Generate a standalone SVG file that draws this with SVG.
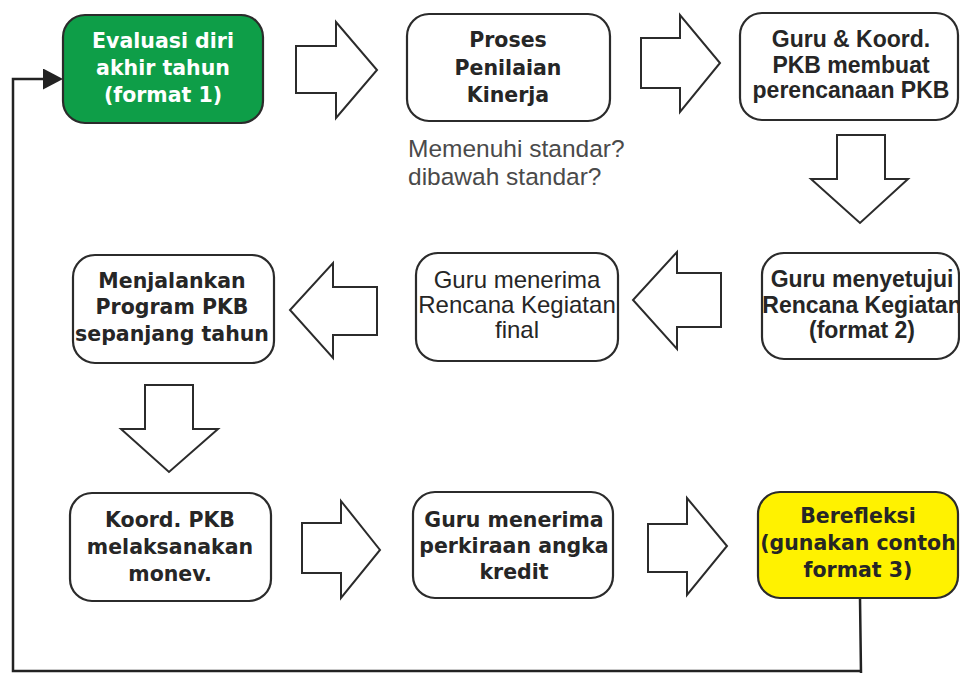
<svg xmlns="http://www.w3.org/2000/svg" width="960" height="673" viewBox="0 0 960 673">
  <style>
    .box { fill: #ffffff; stroke: #2b2b2b; stroke-width: 2.2; }
    .green { fill: #0e9e48; }
    .yellow { fill: #fff200; }
    .blk { stroke: #2b2b2b; stroke-width: 2; fill: #ffffff; stroke-linejoin: miter; }
    .tb { font-family: "DejaVu Sans", Verdana, sans-serif; font-weight: bold; font-size: 20.5px; fill: #262626; text-anchor: middle; }
    .ta { font-family: "Liberation Sans", Arial, sans-serif; font-weight: bold; font-size: 23px; fill: #262626; text-anchor: middle; }
    .tr { font-family: "Liberation Sans", Arial, sans-serif; font-size: 24px; fill: #262626; text-anchor: middle; }
    .note { font-family: "Liberation Sans", Arial, sans-serif; font-size: 24.5px; fill: #4a4a4a; }
    .wire { fill: none; stroke: #222222; stroke-width: 2.5; }
  </style>
  <defs>
    <marker id="head" viewBox="0 0 20 21" refX="7" refY="10.5" markerWidth="20" markerHeight="21" markerUnits="userSpaceOnUse" orient="auto">
      <path d="M0,0 L20,10.5 L0,21 z" fill="#222222"/>
    </marker>
  </defs>

  <rect width="960" height="673" fill="#ffffff"/>

  <!-- feedback loop from the reflection step back to the start -->
  <g id="connectors">
    <path class="wire" d="M860,598 L861,673 M862,671 L13,671 L13,79 L50,79" marker-end="url(#head)"/>
  </g>

  <!-- block arrows between steps -->
  <g id="flow-arrows">
    <polygon class="blk" points="296,46 336,46 336,22 377,70 336,118 336,93 296,93"/>
    <polygon class="blk" points="641,38 680,38 680,15 720,63 680,112 680,88 641,88"/>
    <polygon class="blk" points="837,135 885,135 885,179 908,179 860,223 811,179 837,179"/>
    <polygon class="blk" points="721,273 677,273 677,252 633,300 677,349 677,327 721,327"/>
    <polygon class="blk" points="377,287 333,287 333,263 290,310 333,358 333,335 377,335"/>
    <polygon class="blk" points="145,385 193,385 193,429 218,429 169,472 121,429 145,429"/>
    <polygon class="blk" points="302,523 341,523 341,501 380,550 341,598 341,573 302,573"/>
    <polygon class="blk" points="648,524 687,524 687,498 727,546 687,595 687,572 648,572"/>
  </g>

  <g id="n-evaluasi">
    <rect class="box green" x="63" y="15" width="200" height="108" rx="22"/>
    <text class="tb" x="163" y="48" style="fill:#ffffff">Evaluasi diri</text>
    <text class="tb" x="163" y="75" style="fill:#ffffff">akhir tahun</text>
    <text class="tb" x="163" y="102" style="fill:#ffffff">(format 1)</text>
  </g>

  <g id="n-proses">
    <rect class="box" x="407" y="14" width="203" height="107" rx="22"/>
    <text class="tb" x="508" y="47">Proses</text>
    <text class="tb" x="508" y="75">Penilaian</text>
    <text class="tb" x="508" y="102">Kinerja</text>
  </g>

  <g id="n-standar">
    <text class="note" x="408" y="157">Memenuhi standar?</text>
    <text class="note" x="408" y="185">dibawah standar?</text>
  </g>

  <g id="n-perencanaan">
    <rect class="box" x="740" y="13" width="218" height="107" rx="22"/>
    <text class="ta" x="851" y="47">Guru &amp; Koord.</text>
    <text class="ta" x="851" y="73">PKB membuat</text>
    <text class="ta" x="851" y="98">perencanaan PKB</text>
  </g>

  <g id="n-menyetujui">
    <rect class="box" x="762" y="253" width="197" height="106" rx="22"/>
    <text class="ta" x="862" y="287">Guru menyetujui</text>
    <text class="ta" x="862" y="313">Rencana Kegiatan</text>
    <text class="ta" x="862" y="338">(format 2)</text>
  </g>

  <g id="n-final">
    <rect class="box" x="416" y="253" width="202" height="108" rx="22"/>
    <text class="tr" x="517" y="288">Guru menerima</text>
    <text class="tr" x="517" y="313">Rencana Kegiatan</text>
    <text class="tr" x="517" y="338">final</text>
  </g>

  <g id="n-program">
    <rect class="box" x="73" y="255" width="201" height="108" rx="22"/>
    <text class="tb" x="172" y="288">Menjalankan</text>
    <text class="tb" x="172" y="314">Program PKB</text>
    <text class="tb" x="172" y="341">sepanjang tahun</text>
  </g>

  <g id="n-monev">
    <rect class="box" x="70" y="493" width="201" height="108" rx="22"/>
    <text class="tb" x="170" y="527">Koord. PKB</text>
    <text class="tb" x="170" y="554">melaksanakan</text>
    <text class="tb" x="170" y="581">monev.</text>
  </g>

  <g id="n-kredit">
    <rect class="box" x="413" y="492" width="200" height="106" rx="22"/>
    <text class="tb" x="514" y="527">Guru menerima</text>
    <text class="tb" x="514" y="553">perkiraan angka</text>
    <text class="tb" x="514" y="579">kredit</text>
  </g>

  <g id="n-refleksi">
    <rect class="box yellow" x="758" y="492" width="200" height="106" rx="22"/>
    <text class="tb" x="858" y="523">Berefleksi</text>
    <text class="tb" x="858" y="550">(gunakan contoh</text>
    <text class="tb" x="858" y="577">format 3)</text>
  </g>
</svg>
